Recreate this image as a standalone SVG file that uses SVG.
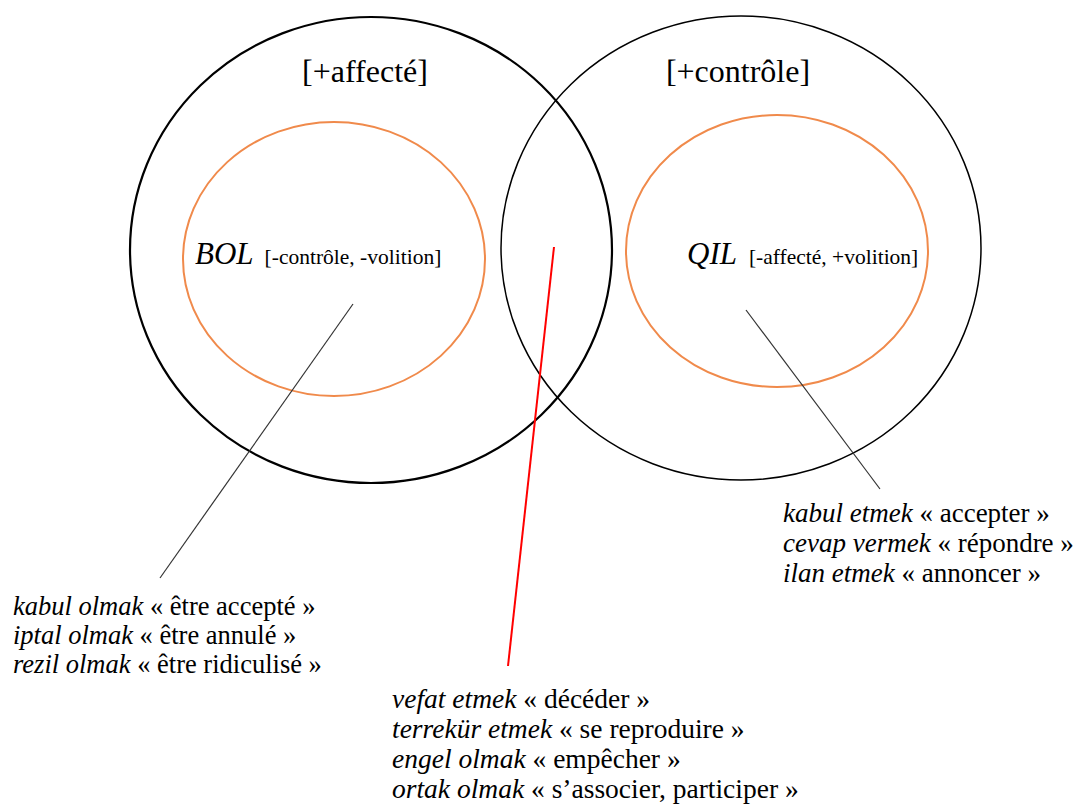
<svg xmlns="http://www.w3.org/2000/svg" width="1076" height="806" viewBox="0 0 1076 806">
<style>
.big{fill:none;stroke:#000}
.inner{fill:none;stroke:#F08A4B;stroke-width:2}
.t{font-family:"Liberation Serif","Times New Roman",serif;fill:#000}
.hd{font-size:32px}
.lab{font-size:31px;font-style:italic}
.feat{font-size:21.5px}
.it{font-style:italic}
.ptr{stroke:#333;stroke-width:1.2}
</style>
<rect width="1076" height="806" fill="#fff"/>
<g id="affecte">
<ellipse class="big" cx="371" cy="250" rx="241" ry="233" stroke-width="2.2"/>
<text class="t hd" x="365" y="82" text-anchor="middle">[+affecté]</text>
</g>
<g id="controle">
<ellipse class="big" cx="741" cy="248" rx="240" ry="232" stroke-width="1.5"/>
<text class="t hd" x="738" y="82" text-anchor="middle">[+contrôle]</text>
</g>
<g id="bol">
<ellipse class="inner" cx="334" cy="259" rx="151" ry="137"/>
<text class="t" x="195" y="264"><tspan class="lab">BOL</tspan><tspan class="feat" dx="11">[-contrôle, -volition]</tspan></text>
</g>
<g id="qil">
<ellipse class="inner" cx="777" cy="251" rx="151" ry="136"/>
<text class="t" x="687" y="264"><tspan class="lab">QIL</tspan><tspan class="feat" dx="12">[-affecté, +volition]</tspan></text>
</g>
<g id="connectors">
<line class="ptr" x1="353" y1="304" x2="160" y2="578"/>
<line x1="554" y1="247" x2="508" y2="666" stroke="#FF0000" stroke-width="2"/>
<line class="ptr" x1="746" y1="310" x2="880" y2="489"/>
</g>
<g id="list-bol" class="t" font-size="26.5">
<text x="13" y="615"><tspan class="it">kabul olmak</tspan> « être accepté »</text>
<text x="13" y="644"><tspan class="it">iptal olmak</tspan> « être annulé »</text>
<text x="13" y="673"><tspan class="it">rezil olmak</tspan> « être ridiculisé »</text>
</g>
<g id="list-qil" class="t" font-size="27">
<text x="783" y="522"><tspan class="it">kabul etmek</tspan> « accepter »</text>
<text x="783" y="552"><tspan class="it">cevap vermek</tspan> « répondre »</text>
<text x="783" y="582"><tspan class="it">ilan etmek</tspan> « annoncer »</text>
</g>
<g id="list-both" class="t" font-size="27.5">
<text x="392" y="708"><tspan class="it">vefat etmek</tspan> « décéder »</text>
<text x="392" y="738"><tspan class="it">terrekür etmek</tspan> « se reproduire »</text>
<text x="392" y="768"><tspan class="it">engel olmak</tspan> « empêcher »</text>
<text x="392" y="798"><tspan class="it">ortak olmak</tspan> « s’associer, participer »</text>
</g>
</svg>
